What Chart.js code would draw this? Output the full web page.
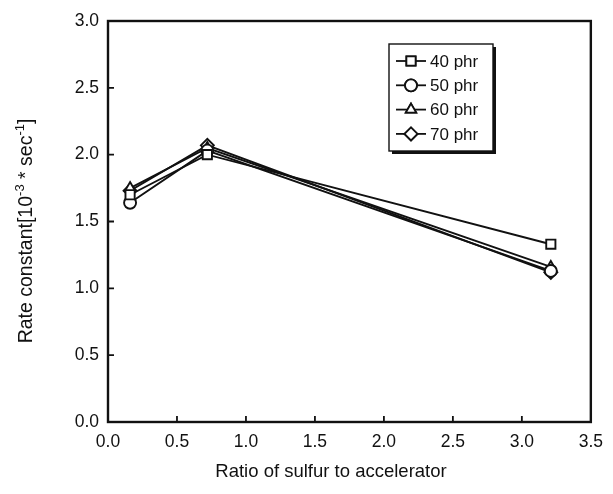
<!DOCTYPE html>
<html>
<head>
<meta charset="utf-8">
<script src="https://cdn.jsdelivr.net/npm/chart.js@4"></script>
<style>
  html, body { margin: 0; padding: 0; background: #fff; }
  #wrap { width: 613px; height: 494px; }
</style>
</head>
<body>
<div id="wrap"><canvas id="rateChart" width="613" height="494"></canvas></div>
<script>
/* ── data ─────────────────────────────────────────────── */
const ratios   = [0.16, 0.72, 3.21];
const phr40    = [1.70, 2.00, 1.33];
const phr50    = [1.64, 2.03, 1.13];
const phr60    = [1.75, 2.05, 1.16];
const phr70    = [1.73, 2.07, 1.12];
const seriesLabels = ['40 phr', '50 phr', '60 phr', '70 phr'];
const xTicks = [0, 0.5, 1, 1.5, 2, 2.5, 3, 3.5];
const yTicks = [0, 0.5, 1, 1.5, 2, 2.5, 3];

const FONT = "'Liberation Sans', Arial, sans-serif";
const INK = '#111';

Chart.defaults.font.family = FONT;
Chart.defaults.color = INK;

const styles = ['rect', 'circle', 'triangle', 'rectRot'];
const radii  = [6.5, 6, 6, 6.5];

function toPoints(vals) {
  return ratios.map((x, i) => ({ x, y: vals[i] }));
}

const datasets = [phr40, phr50, phr60, phr70].map((vals, i) => ({
  label: seriesLabels[i],
  data: toPoints(vals),
  showLine: true,
  borderColor: INK,
  borderWidth: 1.9,
  pointStyle: styles[i],
  pointRadius: radii[i],
  pointBorderWidth: 1.9,
  pointBackgroundColor: '#fff',
  pointBorderColor: INK,
  tension: 0,
}));

// ── frame, inward ticks, titles, legend ──────────────────
const decor = {
  id: 'decor',
  afterDraw(chart) {
    const { ctx, chartArea: a, scales } = chart;
    ctx.save();
    ctx.strokeStyle = INK;
    ctx.lineWidth = 2.4;
    ctx.strokeRect(a.left, a.top, a.right - a.left, a.bottom - a.top);

    ctx.lineWidth = 1.8;
    ctx.beginPath();
    xTicks.slice(1, -1).forEach(v => {
      const px = scales.x.getPixelForValue(v);
      ctx.moveTo(px, a.bottom); ctx.lineTo(px, a.bottom - 6);
    });
    yTicks.slice(1, -1).forEach(v => {
      const py = scales.y.getPixelForValue(v);
      ctx.moveTo(a.left, py); ctx.lineTo(a.left + 6, py);
    });
    ctx.stroke();

    // x title
    ctx.fillStyle = INK;
    ctx.font = '18.5px ' + FONT;
    ctx.textAlign = 'center';
    ctx.textBaseline = 'middle';
    ctx.fillText('Ratio of sulfur to accelerator', 331, 472);

    // y title with superscripts
    const parts = [
      ['Rate constant[10', false], ['-3', true], [' * sec', false], ['-1', true], [']', false],
    ];
    const big = '19.5px ' + FONT, small = '13px ' + FONT;
    let total = 0;
    parts.forEach(([t, sup]) => { ctx.font = sup ? small : big; total += ctx.measureText(t).width; });
    ctx.translate(27, 231);
    ctx.rotate(-Math.PI / 2);
    ctx.textAlign = 'left';
    ctx.textBaseline = 'middle';
    let cx = -total / 2;
    parts.forEach(([t, sup]) => {
      ctx.font = sup ? small : big;
      ctx.fillText(t, cx, sup ? -7 : 0);
      cx += ctx.measureText(t).width;
    });
    ctx.setTransform(1, 0, 0, 1, 0, 0);

    // legend box
    const bx = 389, by = 44, bw = 104, bh = 107;
    ctx.fillStyle = INK;
    ctx.fillRect(bx + bw, by + 3, 3, bh);
    ctx.fillRect(bx + 3, by + bh, bw, 3);
    ctx.lineWidth = 1.4;
    ctx.strokeRect(bx, by, bw, bh);

    ctx.font = '17px ' + FONT;
    ctx.textAlign = 'left';
    ctx.textBaseline = 'middle';
    chart.data.datasets.forEach((ds, i) => {
      const ry = 61 + i * 24.3;
      ctx.lineWidth = 1.8;
      ctx.beginPath();
      ctx.moveTo(396, ry); ctx.lineTo(426, ry);
      ctx.stroke();
      Chart.helpers.drawPoint(ctx, {
        pointStyle: ds.pointStyle, radius: ds.pointRadius, borderWidth: 1.8,
      }, 411, ry);
      ctx.fillStyle = '#fff';
      ctx.fill();
      ctx.strokeStyle = INK;
      ctx.stroke();
      ctx.fillStyle = INK;
      ctx.fillText(ds.label, 430, ry + 1);
    });
    ctx.restore();
  },
};

new Chart(document.getElementById('rateChart'), {
  type: 'scatter',
  data: { datasets },
  options: {
    responsive: false,
    animation: false,
    layout: { padding: { left: 0, right: 21, top: 21, bottom: 0 } },
    plugins: { legend: { display: false }, tooltip: { enabled: false } },
    scales: {
      x: {
        type: 'linear', min: 0, max: 3.5,
        afterFit: s => { s.height = 72; },
        afterBuildTicks: s => { s.ticks = xTicks.map(v => ({ value: v })); },
        grid: { display: false, drawTicks: false },
        border: { display: false },
        ticks: { padding: 10, font: { size: 17.5 }, color: INK, callback: v => v.toFixed(1) },
      },
      y: {
        type: 'linear', min: 0, max: 3,
        afterFit: s => { s.width = 108; },
        afterBuildTicks: s => { s.ticks = yTicks.map(v => ({ value: v })); },
        grid: { display: false, drawTicks: false },
        border: { display: false },
        ticks: { padding: 9, font: { size: 17.5 }, color: INK, callback: v => v.toFixed(1) },
      },
    },
  },
  plugins: [decor],
});
</script>
</body>
</html>
